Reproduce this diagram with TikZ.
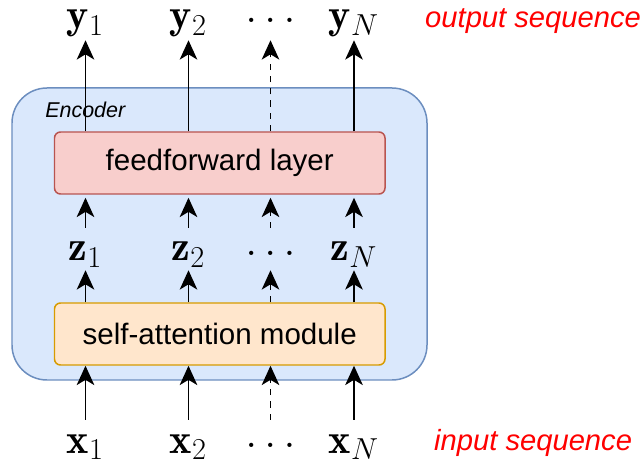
\documentclass[tikz,border=0pt]{standalone}
\usepackage{amsmath}
\usepackage{fontspec}
\newfontfamily\arialfont{Liberation Sans}
\usepackage{xcolor}
\usetikzlibrary{arrows.meta}

\definecolor{encfill}{HTML}{DAE8FC}
\definecolor{encdraw}{HTML}{6C8EBF}
\definecolor{fffill}{HTML}{F8CECC}
\definecolor{ffdraw}{HTML}{B85450}
\definecolor{safill}{HTML}{FFE6CC}
\definecolor{sadraw}{HTML}{D79B00}
\definecolor{seqred}{HTML}{FF0000}

\newcommand{\middots}{\raisebox{3.2pt}{$\ldots$}}

\tikzset{
	lbl/.style = {font=\fontsize{24}{28}\selectfont, inner sep=0pt, text height=11pt, text depth=4.5pt, anchor=base},
	arr/.style = {-{Stealth[length=11pt, width=10pt, inset=3pt]}, line width=1pt},
	darr/.style = {arr, dash pattern=on 3.5pt off 3.5pt},
	layer/.style = {draw, rounded corners=0.12cm, line width=0.85pt, minimum width=6.61cm, minimum height=1.24cm, font=\arialfont\fontsize{16.8}{20}\selectfont},
	seqtext/.style = {anchor=base west, text=seqred, font=\arialfont\itshape\fontsize{16.6}{20}\selectfont}
}

\begin{document}
\begin{tikzpicture}
			\def\xa{1.71};
			\def\xb{3.77};
			\def\xc{5.41};
			\def\xd{7.08};

			\useasboundingbox (0,0) rectangle (12.84,9.32);

			\begin{scope}
				\node[draw=encdraw, fill=encfill, line width=0.85pt, rounded corners=0.7cm, minimum width=8.30cm, minimum height=5.84cm] (enc) at (4.39,4.64) {};
				\node[anchor=base west, inner sep=0pt, font=\arialfont\itshape\fontsize{12.2}{14}\selectfont] (enclabel) at (0.90,6.96) {Encoder};
			\end{scope}

			\begin{scope}
				\node[layer, draw=ffdraw, fill=fffill] (ff) at (4.395,6.06) {feedforward layer};
				\node[layer, draw=sadraw, fill=safill] (sa) at (4.395,2.64) {self-attention module};
			\end{scope}

			\begin{scope}
				\node[lbl] (y1) at (\xa,8.75) {$\mathbf{y}_1$};
				\node[lbl] (y2) at (\xb,8.75) {$\mathbf{y}_2$};
				\node[lbl] (yd) at (\xc,8.75) {\middots};
				\node[lbl] (yn) at (\xd,8.75) {$\mathbf{y}_N$};

				\node[lbl] (z1) at (\xa,4.10) {$\mathbf{z}_1$};
				\node[lbl] (z2) at (\xb,4.10) {$\mathbf{z}_2$};
				\node[lbl] (zd) at (\xc,4.10) {\middots};
				\node[lbl] (zn) at (\xd,4.10) {$\mathbf{z}_N$};

				\node[lbl] (x1) at (\xa,0.26) {$\mathbf{x}_1$};
				\node[lbl] (x2) at (\xb,0.26) {$\mathbf{x}_2$};
				\node[lbl] (xd) at (\xc,0.26) {\middots};
				\node[lbl] (xn) at (\xd,0.26) {$\mathbf{x}_N$};
			\end{scope}

			\node[seqtext] (outseq) at (8.38,8.76) {output sequence};
			\node[seqtext] (inseq) at (8.56,0.30) {input sequence};

			\begin{scope}[shorten <=0.27cm]
				\draw[arr] (x1.north) -- (x1.north |- sa.south);
				\draw[arr] (x2.north) -- (x2.north |- sa.south);
				\draw[darr] (xd.north) -- (xd.north |- sa.south);
				\draw[arr] (xn.north) -- (xn.north |- sa.south);
			\end{scope}

			\begin{scope}[shorten >=0.02cm]
				\draw[arr] (z1.south |- sa.north) -- (z1.south);
				\draw[arr] (z2.south |- sa.north) -- (z2.south);
				\draw[darr] (zd.south |- sa.north) -- (zd.south);
				\draw[arr] (zn.south |- sa.north) -- (zn.south);
			\end{scope}

			\begin{scope}[shorten <=0.27cm, shorten >=0.06cm]
				\draw[arr] (z1.north) -- (z1.north |- ff.south);
				\draw[arr] (z2.north) -- (z2.north |- ff.south);
				\draw[darr] (zd.north) -- (zd.north |- ff.south);
				\draw[arr] (zn.north) -- (zn.north |- ff.south);
			\end{scope}

			\begin{scope}[shorten >=0.07cm]
				\draw[arr] (y1.south |- ff.north) -- (y1.south);
				\draw[arr] (y2.south |- ff.north) -- (y2.south);
				\draw[darr] (yd.south |- ff.north) -- (yd.south);
				\draw[arr] (yn.south |- ff.north) -- (yn.south);
			\end{scope}
		\end{tikzpicture}
\end{document}
